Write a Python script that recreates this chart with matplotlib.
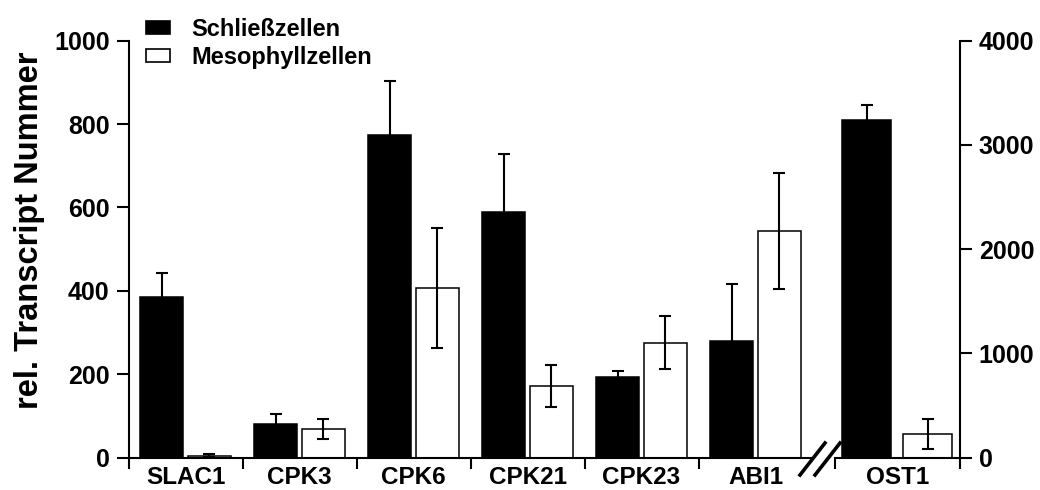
import matplotlib
matplotlib.use("Agg")
import matplotlib.pyplot as plt
from matplotlib.patches import Patch
from matplotlib.lines import Line2D
import numpy as np

plt.rcParams['font.family'] = ['Liberation Sans', 'DejaVu Sans']
plt.rcParams['font.weight'] = 'bold'

categories = ["SLAC1", "CPK3", "CPK6", "CPK21", "CPK23", "ABI1"]
schliess = [385, 80, 773, 590, 193, 281]
schliess_err = [58, 25, 130, 138, 16, 136]
meso = [5, 68, 408, 172, 276, 544]
meso_err = [4, 24, 144, 50, 64, 139]

ost_label = "OST1"
ost_schliess, ost_schliess_err = 3240, 145
ost_meso, ost_meso_err = 228, 148

left_ticks = [0, 200, 400, 600, 800, 1000]
right_ticks = [0, 1000, 2000, 3000, 4000]

W, H = 1040, 490
fig = plt.figure(figsize=(W / 100, H / 100), dpi=100)

def fx(px):
    return px / W

def fy(py):
    return 1 - py / H

bottom = fy(457.7)
height = fy(40.7) - bottom
ax1 = fig.add_axes([fx(128.5), bottom, fx(811) - fx(128.5), height])
ax2 = fig.add_axes([fx(835), bottom, fx(960) - fx(835), height])

lw = 1.5
bar_lw = 1.1
ekw = dict(ecolor="black", elinewidth=1.5, capsize=4, capthick=1.5)

x = np.arange(len(categories))
off, bw = 0.21, 0.375
ax1.bar(x - off, schliess, bw, color="black", edgecolor="black", linewidth=bar_lw, zorder=2)
ax1.bar(x + off, meso, bw, color="white", edgecolor="black", linewidth=bar_lw, zorder=2)
ax1.errorbar(x - off, schliess, yerr=schliess_err, fmt="none", zorder=3, **ekw)
ax1.errorbar(x + off, meso, yerr=meso_err, fmt="none", zorder=3, **ekw)

ax1.set_xlim(-0.5, -0.5 + (811 - 128.5) / 114)
ax1.set_ylim(0, 1000)
ax1.set_yticks(left_ticks)
ax1.set_xticks(np.arange(len(categories)) - 0.5)
ax1.set_xticklabels([])
ax1.set_xticks(x, minor=True)
ax1.set_xticklabels(categories, minor=True)
for s in ("top", "right"):
    ax1.spines[s].set_visible(False)
for s in ("left", "bottom"):
    ax1.spines[s].set_linewidth(lw)
ax1.tick_params(axis="y", which="major", direction="out", length=8.5, width=lw, labelsize=18, pad=5)
ax1.tick_params(axis="x", which="major", direction="out", length=8, width=lw)
ax1.tick_params(axis="x", which="minor", length=0, labelsize=17.5, pad=6)
ax1.set_ylabel("rel. Transcript Nummer", fontsize=23.5, fontweight="bold")
ax1.yaxis.set_label_coords(-0.122, 0.545)

# OST1 on the right axis
ax2.bar([0.252], [ost_schliess], 0.39, color="black", edgecolor="black", linewidth=bar_lw, zorder=2)
ax2.bar([0.74], [ost_meso], 0.39, color="white", edgecolor="black", linewidth=bar_lw, zorder=2)
ax2.errorbar([0.252], [ost_schliess], yerr=[ost_schliess_err], fmt="none", zorder=3, **ekw)
ax2.errorbar([0.74], [ost_meso], yerr=[ost_meso_err], fmt="none", zorder=3, **ekw)
ax2.set_xlim(0, 1)
ax2.set_ylim(0, 4000)
ax2.yaxis.tick_right()
ax2.set_yticks(right_ticks)
ax2.set_xticks([0, 1])
ax2.set_xticklabels([])
ax2.set_xticks([0.5], minor=True)
ax2.set_xticklabels([ost_label], minor=True)
for s in ("top", "left"):
    ax2.spines[s].set_visible(False)
for s in ("right", "bottom"):
    ax2.spines[s].set_linewidth(lw)
ax2.tick_params(axis="y", which="major", direction="out", length=8.5, width=lw, labelsize=18, pad=5)
ax2.tick_params(axis="x", which="major", direction="out", length=8, width=lw)
ax2.tick_params(axis="x", which="minor", length=0, labelsize=17.5, pad=6)
for t in ax1.get_yticklabels() + ax2.get_yticklabels() + ax1.get_xticklabels(minor=True) + ax2.get_xticklabels(minor=True):
    t.set_fontweight("bold")

# axis break marks
for (x0, y0, x1, y1) in [(800, 475, 825, 443), (815, 475, 840, 443)]:
    fig.add_artist(Line2D([fx(x0), fx(x1)], [fy(y0), fy(y1)], color="black", linewidth=2.6,
                          transform=fig.transFigure))

handles = [Patch(facecolor="black", edgecolor="black", linewidth=1.2),
           Patch(facecolor="white", edgecolor="black", linewidth=1.2)]
fig.legend(handles, ["Schließzellen", "Mesophyllzellen"], loc="upper left",
           bbox_to_anchor=(fx(146), fy(18)),
           frameon=False, prop={"weight": "bold", "size": 17},
           handlelength=1.02, handleheight=0.51, handletextpad=0.9,
           labelspacing=0.2, borderpad=0, borderaxespad=0)

fig.savefig("out.png", dpi=100)
